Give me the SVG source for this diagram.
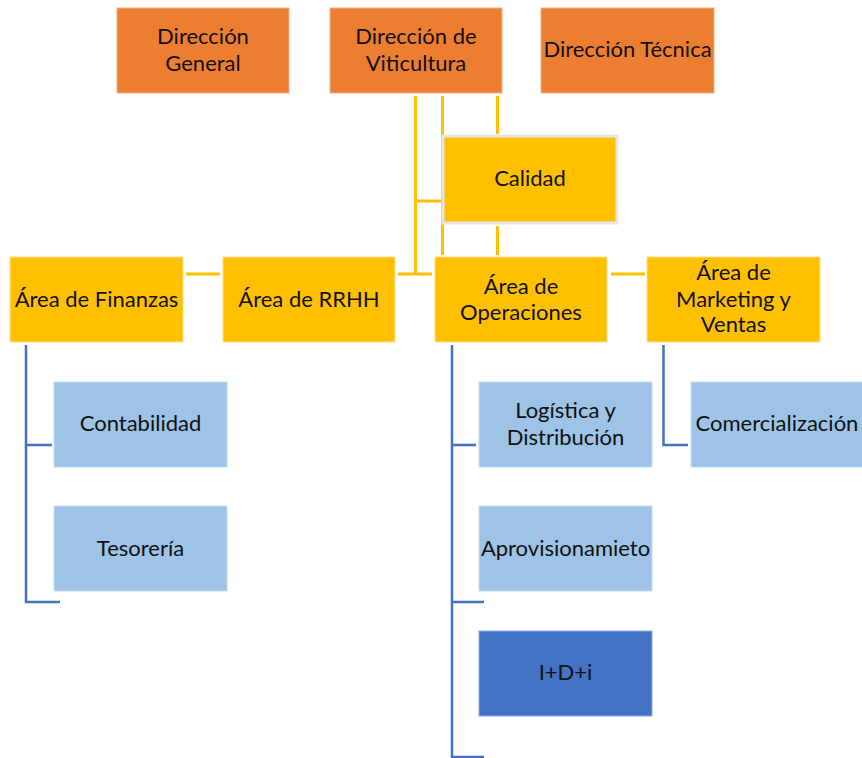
<svg xmlns="http://www.w3.org/2000/svg" width="862" height="758" viewBox="0 0 862 758">
<style>
.org{fill:#ED7D31;stroke:#F4B183;stroke-width:1}
.yel{fill:#FFC000;stroke:#FFE08A;stroke-width:1}
.lb{fill:#9DC3E6;stroke:#C9DDF0;stroke-width:1}
.db{fill:#4472C4;stroke:#8FAADC;stroke-width:1}
.cal{fill:#FFC000;stroke:#E6E6E6;stroke-width:3}
text{font-family:Lato,"Open Sans","Liberation Sans",sans-serif;font-size:22px;fill:#111;text-anchor:middle}
.yl{stroke:#FFC000;stroke-width:3;fill:none}
.bl{stroke:#4472C4;stroke-width:2.5;fill:none}
</style>
<rect width="862" height="758" fill="#fff"/>
<g id="connectors">
<path class="yl" d="M415.5 96V274M442.5 96V255M497.5 96V134M497.5 226V255M415.5 201H442M398 274H432M186 274H220M611 274H645"/>
<path class="bl" d="M26 345V602H60M26 445H52M452 345V758M452 445H476M452 602H484M452 757H484M663.5 345V445H688"/>
</g>
<g id="dir-general"><rect class="org" x="117" y="8" width="172" height="85"/><text x="203" y="44">Dirección</text><text x="203" y="71">General</text></g>
<g id="dir-viticultura"><rect class="org" x="330" y="8" width="172" height="85"/><text x="416" y="44">Dirección de</text><text x="416" y="71">Viticultura</text></g>
<g id="dir-tecnica"><rect class="org" x="541" y="8" width="173" height="85"/><text x="627.5" y="57">Dirección Técnica</text></g>
<g id="calidad"><rect class="cal" x="443" y="136" width="174" height="87"/><text x="530" y="186">Calidad</text></g>
<g id="finanzas"><rect class="yel" x="10" y="257" width="173" height="85"/><text x="96.5" y="307">Área de Finanzas</text></g>
<g id="rrhh"><rect class="yel" x="223" y="257" width="172" height="85"/><text x="309" y="307">Área de RRHH</text></g>
<g id="operaciones"><rect class="yel" x="435" y="257" width="172" height="85"/><text x="521" y="294">Área de</text><text x="521" y="320">Operaciones</text></g>
<g id="marketing"><rect class="yel" x="647" y="257" width="173" height="85"/><text x="733.5" y="280">Área de</text><text x="733.5" y="306.5">Marketing y</text><text x="733.5" y="332">Ventas</text></g>
<g id="contabilidad"><rect class="lb" x="54" y="382" width="173" height="85"/><text x="140.5" y="431">Contabilidad</text></g>
<g id="tesoreria"><rect class="lb" x="54" y="506" width="173" height="85"/><text x="140.5" y="555.5">Tesorería</text></g>
<g id="logistica"><rect class="lb" x="479" y="382" width="173" height="85"/><text x="565.5" y="418">Logística y</text><text x="565.5" y="444.5">Distribución</text></g>
<g id="aprovisionamiento"><rect class="lb" x="479" y="506" width="173" height="85"/><text x="565.5" y="555.5">Aprovisionamieto</text></g>
<g id="idi"><rect class="db" x="479" y="631" width="173" height="85"/><text x="565.5" y="680">I+D+i</text></g>
<g id="comercializacion"><rect class="lb" x="691" y="382" width="172" height="85"/><text x="777" y="431">Comercialización</text></g>
</svg>
